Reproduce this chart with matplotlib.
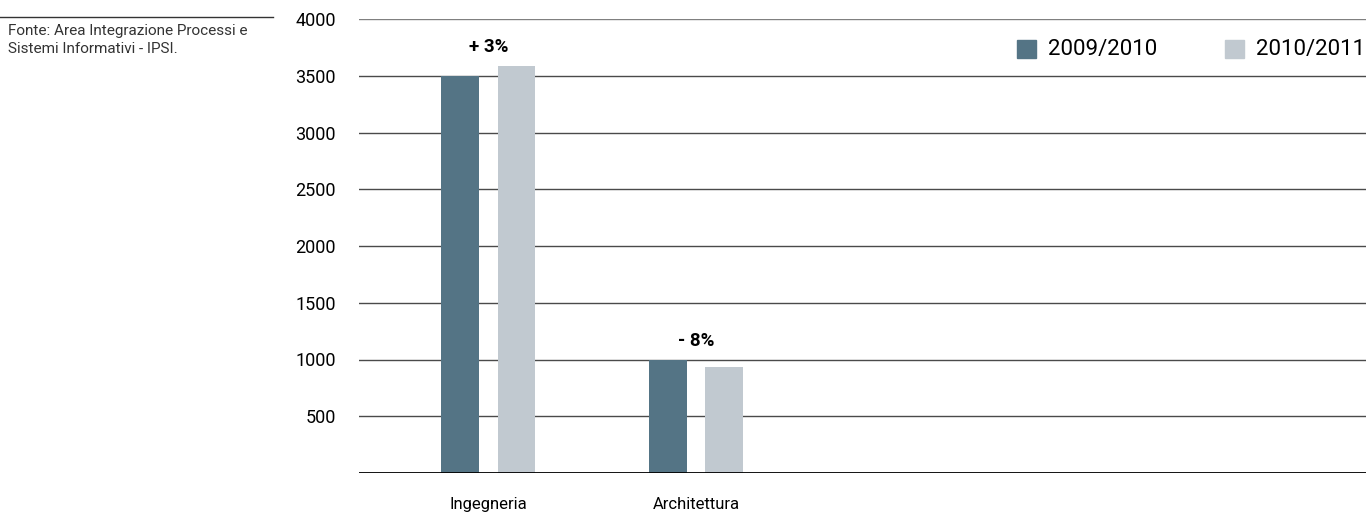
import numpy as np
import matplotlib.pyplot as plt
from matplotlib.lines import Line2D
from matplotlib.patches import Rectangle

plt.rcParams['font.family'] = ['Roboto', 'DejaVu Sans']

# data
categories = ['Ingegneria', 'Architettura']
series_names = ['2009/2010', '2010/2011']
values_2009 = [3500, 1000]
values_2010 = [3590, 930]
changes = ['+ 3%', '- 8%']
yticks = [500, 1000, 1500, 2000, 2500, 3000, 3500, 4000]
source = 'Fonte: Area Integrazione Processi e\nSistemi Informativi - IPSI.'

dark = '#547485'
light = '#c1c9d0'
W, H = 1366, 515

fig = plt.figure(figsize=(W / 100, H / 100), dpi=100)
ax = fig.add_axes([359/W, 1 - 473/H, 1 - 359/W, (473 - 19)/H])

x = np.arange(len(categories))
w = 0.183
off = 0.135
ax.bar(x - off, values_2009, w, color=dark, zorder=3)
ax.bar(x + off, values_2010, w, color=light, zorder=3)

ax.set_xlim(-0.624, 4.229)
ax.set_ylim(0, 4000)

# horizontal grid
for t in yticks:
    ax.axhline(t, color='#4a4a4a' if t < 4000 else '#808080', lw=1.0, zorder=1)
ax.axhline(0, color='black', lw=1.3, zorder=4)

for s in ax.spines.values():
    s.set_visible(False)

ax.set_yticks(yticks)
ax.set_yticklabels([str(t) for t in yticks], fontsize=13)
ax.tick_params(axis='y', length=0, pad=16.5)
ax.set_xticks(x)
ax.set_xticklabels(categories, fontsize=12)
ax.tick_params(axis='x', length=0, pad=17)

for i, lab in enumerate(changes):
    top = max(values_2009[i], values_2010[i])
    ax.annotate(lab, (x[i], top), xytext=(0, 7), textcoords='offset points',
                ha='center', va='bottom', fontsize=13.5, fontweight='bold')

# legend, placed by hand
legend_pos = [1017, 1225]
for name, col, px in zip(series_names, [dark, light], legend_pos):
    fig.add_artist(Rectangle((px / W, 1 - 58 / H), 19 / W, 18 / H,
                             color=col, transform=fig.transFigure))
    fig.text((px + 31) / W, 1 - 49 / H, name, fontsize=16, va='center', ha='left')

# source note
fig.add_artist(Line2D([0, 273/W], [1 - 17/H, 1 - 17/H], color='#333333', lw=1))
fig.text(8/W, 1 - 24/H, source, fontsize=11, va='top', ha='left',
         color='#333333', linespacing=1.35)

fig.savefig('out.png', dpi=100)
